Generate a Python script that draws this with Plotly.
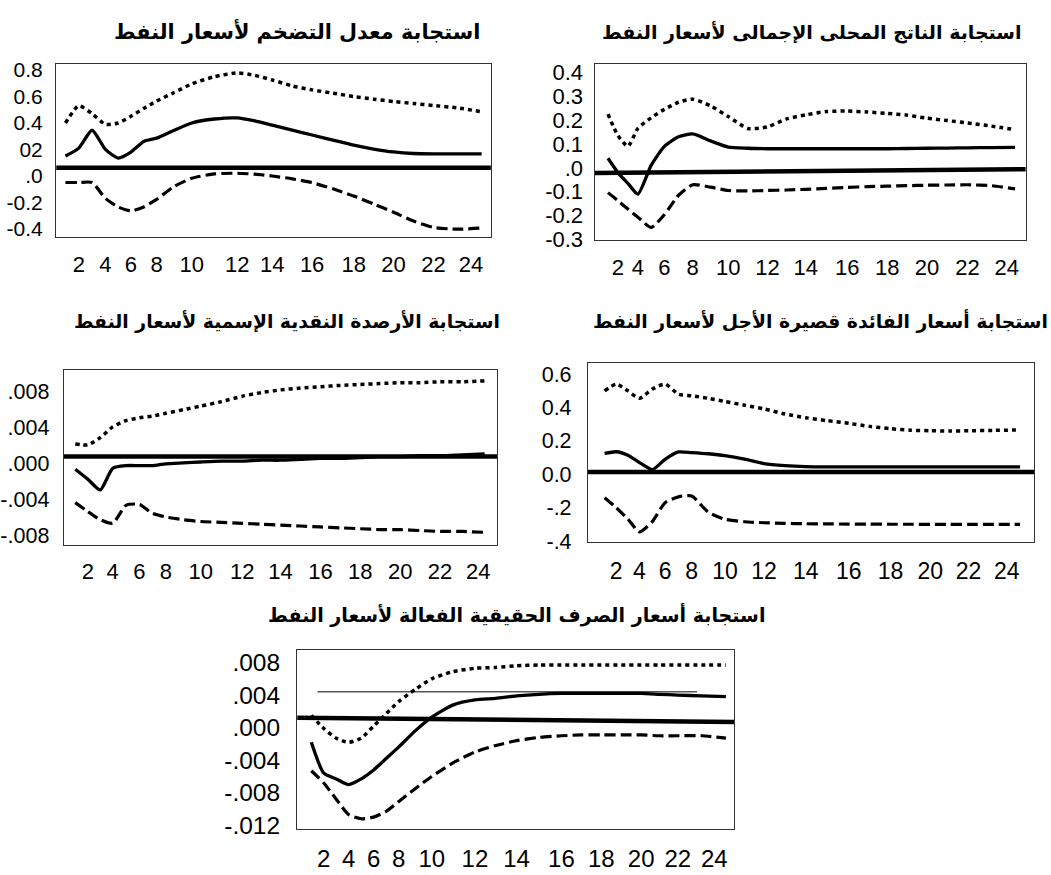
import numpy as np
import plotly.graph_objects as go

# ---------------- data ----------------
periods = np.arange(1, 25)
x_tick_text = [str(v) for v in range(2, 25, 2)]

# 1) inflation
inf_upper = [0.40, 0.53, 0.47, 0.39, 0.40, 0.45, 0.51, 0.565, 0.63, 0.695, 0.75, 0.778,
             0.76, 0.725, 0.68, 0.65, 0.625, 0.60, 0.58, 0.562, 0.547, 0.532, 0.514, 0.485]
inf_resp = [0.15, 0.21, 0.345, 0.20, 0.135, 0.18, 0.26, 0.285, 0.345, 0.40, 0.43, 0.438,
            0.415, 0.383, 0.346, 0.309, 0.27, 0.232, 0.203, 0.181, 0.169, 0.166, 0.166, 0.166]
inf_lower = [-0.05, -0.05, -0.05, -0.17, -0.235, -0.265, -0.235, -0.178, -0.08, -0.018, 0.015, 0.02,
             0.013, -0.001, -0.022, -0.051, -0.098, -0.152, -0.212, -0.275, -0.341, -0.389, -0.403, -0.394]
inf_base = [0.062, 0.062]

# 2) GDP
gdp_upper = [0.225, 0.135, 0.09, 0.165, 0.21, 0.245, 0.275, 0.288, 0.26, 0.215, 0.165, 0.172,
             0.205, 0.222, 0.236, 0.238, 0.234, 0.228, 0.221, 0.208, 0.198, 0.188, 0.175, 0.16]
gdp_resp = [0.04, -0.02, -0.065, -0.11, 0.01, 0.09, 0.13, 0.142, 0.113, 0.087, 0.082, 0.08,
            0.08, 0.08, 0.08, 0.08, 0.08, 0.08, 0.081, 0.082, 0.083, 0.084, 0.085, 0.086]
gdp_lower = [-0.104, -0.138, -0.173, -0.207, -0.25, -0.196, -0.115, -0.071, -0.081, -0.095, -0.097, -0.095,
             -0.093, -0.09, -0.086, -0.082, -0.079, -0.077, -0.075, -0.073, -0.072, -0.071, -0.075, -0.088]
gdp_base = [-0.022, -0.006]

# 3) nominal money balances
money_upper = [0.0022, 0.0021, 0.0029, 0.0041, 0.0048, 0.0051, 0.0053, 0.0056, 0.0060, 0.0064, 0.0069, 0.0075,
               0.0079, 0.0082, 0.0084, 0.00855, 0.0087, 0.0088, 0.0089, 0.0090, 0.0090, 0.0091, 0.0091, 0.0092]
money_resp = [-0.0006, -0.0017, -0.0029, -0.0005, -0.0002, -0.0002, -0.0002, 0.0000, 0.0001, 0.0002, 0.0003, 0.0003,
              0.0004, 0.0004, 0.0005, 0.0006, 0.0006, 0.0007, 0.0008, 0.0008, 0.0009, 0.0009, 0.0010, 0.0011]
money_lower = [-0.0043, -0.0053, -0.0062, -0.0066, -0.0046, -0.0045, -0.0055, -0.0059, -0.0062, -0.0064, -0.0065, -0.0066,
               -0.0067, -0.0068, -0.0069, -0.0070, -0.0071, -0.0072, -0.0073, -0.0073, -0.0074, -0.0075, -0.0075, -0.0076]
money_base = [0.0008, 0.0008]

# 4) short-term interest rate
rate_upper = [0.50, 0.54, 0.50, 0.455, 0.51, 0.54, 0.48, 0.47, 0.455, 0.436, 0.414, 0.392,
              0.361, 0.339, 0.321, 0.305, 0.287, 0.273, 0.264, 0.261, 0.259, 0.261, 0.263, 0.266]
rate_resp = [0.125, 0.135, 0.114, 0.07, 0.028, 0.09, 0.134, 0.13, 0.123, 0.112, 0.091, 0.064,
             0.052, 0.046, 0.044, 0.044, 0.044, 0.044, 0.044, 0.044, 0.044, 0.044, 0.044, 0.044]
rate_lower = [-0.14, -0.20, -0.268, -0.345, -0.283, -0.17, -0.135, -0.13, -0.227, -0.269, -0.284, -0.29,
              -0.294, -0.296, -0.297, -0.298, -0.298, -0.299, -0.299, -0.3, -0.3, -0.3, -0.3, -0.3]
rate_base = [0.014, 0.014]

# 5) real effective exchange rate
fx_upper = [0.0015, -0.0001, -0.0013, -0.0018, -0.0013, 0.0002, 0.0017, 0.0032, 0.0047, 0.0060, 0.0069, 0.0073,
            0.0074, 0.0076, 0.0077, 0.0077, 0.0077, 0.0077, 0.0077, 0.0077, 0.0077, 0.0077, 0.0077, 0.0077]
fx_resp = [-0.0018, -0.0056, -0.0063, -0.0070, -0.0063, -0.0052, -0.0038, -0.0024, -0.0004, 0.0013, 0.0028, 0.0034,
           0.0036, 0.0039, 0.0041, 0.0042, 0.0042, 0.0042, 0.0042, 0.0042, 0.0041, 0.0040, 0.0039, 0.0038]
fx_lower = [-0.0053, -0.0068, -0.0088, -0.0107, -0.0112, -0.0110, -0.0103, -0.0091, -0.0075, -0.0060, -0.0043, -0.0030,
            -0.0022, -0.0016, -0.0012, -0.0010, -0.0009, -0.0009, -0.0009, -0.0009, -0.0010, -0.0010, -0.0010, -0.0013]
fx_base = [0.0012, 0.0007]
fx_ref_periods = [1.5, 22.8]
fx_ref = [0.0044, 0.0044]

titles = [
    "استجابة معدل التضخم لأسعار النفط",
    "استجابة الناتج المحلى الإجمالى لأسعار النفط",
    "استجابة الأرصدة النقدية الإسمية لأسعار النفط",
    "استجابة أسعار الفائدة قصيرة الأجل لأسعار النفط",
    "استجابة أسعار الصرف الحقيقية الفعالة لأسعار النفط",
]

# ---------------- layout of the five panels ----------------
W, H = 1051, 875
panels = [
    dict(box=(53.3, 489.3, 59.3, 236), yr=(-0.463, 0.845),
         tv=[0.8, 0.6, 0.4, 0.2, 0.0, -0.2, -0.4], tt=["0.8", "0.6", "0.4", "02", ".0", "-0.2", "-0.4"],
         xt=[76, 102.7, 128.3, 154, 189.3, 235, 270, 310, 351.7, 391.7, 431.7, 469.3], xend=480,
         s=(inf_upper, inf_resp, inf_lower), base=inf_base, yfs=21, xfs=22, ysd=8, xsd=7,
         tc=(295, 26), tfs=20.8),
    dict(box=(593.3, 1025.7, 59.3, 239), yr=(-0.303, 0.435),
         tv=[0.4, 0.3, 0.2, 0.1, 0.0, -0.1, -0.2, -0.3],
         tt=["0.4", "0.3", "0.2", "0.1", ".0", "-0.1", "-0.2", "-0.3"],
         xt=[616.7, 636.7, 663.3, 691.7, 727.3, 766.7, 805, 846.7, 886.7, 926.7, 967.3, 1006.7], xend=1015,
         s=(gdp_upper, gdp_resp, gdp_lower), base=gdp_base, yfs=22, xfs=22, ysd=6, xsd=7,
         tc=(811, 27), tfs=19),
    dict(box=(61, 495.7, 371.7, 550), yr=(-0.00897, 0.0104),
         tv=[0.008, 0.004, 0.0, -0.004, -0.008], tt=[".008", ".004", ".000", "-.004", "-.008"],
         xt=[85, 110, 136.7, 163.3, 198.3, 240, 278.3, 318.3, 358.3, 398.3, 438.3, 476.7], xend=483,
         s=(money_upper, money_resp, money_lower), base=money_base, yfs=21.5, xfs=22, ysd=9, xsd=7,
         tc=(285, 322), tfs=18.8),
    dict(box=(586.7, 1034, 364, 547.7), yr=(-0.408, 0.6695),
         tv=[0.6, 0.4, 0.2, 0.0, -0.2, -0.4], tt=["0.6", "0.4", "0.2", "0.0", "-.2", "-.4"],
         xt=[615, 638.3, 664, 690.7, 724, 763.3, 805, 848.3, 890, 930, 968.3, 1006.7], xend=1020,
         s=(rate_upper, rate_resp, rate_lower), base=rate_base, yfs=21.5, xfs=23, ysd=11, xsd=8,
         tc=(820, 322), tfs=18.8),
    dict(box=(295, 733.3, 657.3, 840.7), yr=(-0.01251, 0.00957),
         tv=[0.008, 0.004, 0.0, -0.004, -0.008, -0.012],
         tt=[".008", ".004", ".000", "-.004", "-.008", "-.012"],
         xt=[321.7, 346.7, 371.7, 396.7, 430, 473.3, 515, 560, 600, 640, 676.7, 713.3], xend=725,
         s=(fx_upper, fx_resp, fx_lower), base=fx_base, yfs=24.5, xfs=24, ysd=11, xsd=8,
         tc=(515, 622), tfs=19.1),
]


def period_to_x(p, xt, xend):
    knots_p = [1] + list(range(2, 24, 2)) + [24]
    knots_x = [xt[0] - (xt[1] - xt[0]) / 2] + list(xt[:-1]) + [xend]
    return np.interp(p, knots_p, knots_x)


fig = go.Figure()
styles = [
    dict(color="black", width=3.5, dash="4px,4px"),
    dict(color="black", width=3.3),
    dict(color="black", width=3.2, dash="11px,5px"),
]
annotations = []
for i, pn in enumerate(panels, start=1):
    l, r, t, b = pn["box"]
    xa, ya = f"x{i}", f"y{i}"
    xs = period_to_x(periods, pn["xt"], pn["xend"])
    # baseline
    fig.add_trace(go.Scatter(x=[l, r], y=pn["base"], mode="lines", xaxis=xa, yaxis=ya,
                             line=dict(color="black", width=4.5), hoverinfo="skip"))
    for ser, st in zip(pn["s"], styles):
        fig.add_trace(go.Scatter(x=xs, y=ser, mode="lines", xaxis=xa, yaxis=ya,
                                 line=dict(shape="spline", smoothing=0.6, **st)))
    if i == 5:
        fig.add_trace(go.Scatter(x=period_to_x(fx_ref_periods, pn["xt"], pn["xend"]), y=fx_ref,
                                 mode="lines", xaxis=xa, yaxis=ya,
                                 line=dict(color="black", width=1)))
    axis_common = dict(showline=True, mirror=True, linecolor="#333", linewidth=1.3,
                       showgrid=False, zeroline=False, ticks="", fixedrange=True)
    fig.update_layout({
        f"xaxis{i}": dict(domain=[l / W, r / W], range=[l, r], anchor=ya,
                          tickmode="array", tickvals=pn["xt"], ticktext=x_tick_text,
                          tickfont=dict(family="Liberation Sans, Arial", size=pn["xfs"], color="black"),
                          ticklabelstandoff=pn["xsd"], **axis_common),
        f"yaxis{i}": dict(domain=[1 - b / H, 1 - t / H], range=list(pn["yr"]), anchor=xa,
                          tickmode="array", tickvals=pn["tv"], ticktext=pn["tt"],
                          tickfont=dict(family="Liberation Sans, Arial", size=pn["yfs"], color="black"),
                          ticklabelstandoff=pn["ysd"], **axis_common),
    })
    annotations.append(dict(text="<b>" + titles[i - 1] + "</b>", xref="paper", yref="paper",
                            x=pn["tc"][0] / W, y=1 - pn["tc"][1] / H, xanchor="center", yanchor="middle",
                            showarrow=False, font=dict(family="DejaVu Sans", size=pn["tfs"], color="black")))

fig.update_layout(width=W, height=H, margin=dict(l=0, r=0, t=0, b=0), autosize=False,
                  paper_bgcolor="white", plot_bgcolor="white", showlegend=False,
                  annotations=annotations)
fig.write_html("out.html", config={"displayModeBar": False},
               post_script="document.body.style.margin='0';document.body.style.padding='0';")
